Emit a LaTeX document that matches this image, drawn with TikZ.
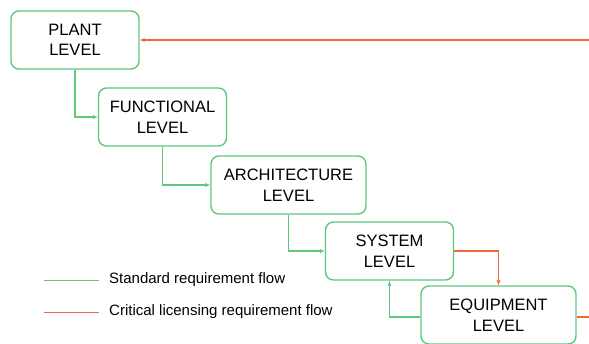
\documentclass[tikz,border=0pt]{standalone}
\usepackage{fontspec}
\setmainfont{Liberation Sans}
\usepackage{tikz}
\usetikzlibrary{arrows.meta}
\definecolor{flowgreen}{RGB}{95,200,125}
\definecolor{flowred}{RGB}{240,105,60}

\begin{document}
\begin{tikzpicture}[x=1pt,y=-1pt,
  levelbox/.style={draw=flowgreen,line width=1.4pt,rounded corners=8pt,fill=white,
    minimum width=128pt,minimum height=58pt,align=center,inner sep=0pt,
    font=\fontsize{16.5}{20.5}\selectfont},
  widebox/.style={levelbox,minimum width=155pt},
  stdflow/.style={draw=flowgreen,line width=1.3pt,-{Latex[length=5pt,width=4.5pt]}},
  critflow/.style={draw=flowred,line width=1.3pt,-{Latex[length=5pt,width=4.5pt]}},
  legtext/.style={anchor=west,inner sep=0pt,font=\fontsize{15}{18}\selectfont}]
 \useasboundingbox (0,0) rectangle (589,343);
 % the five levels, stepping down to the right
 \node[levelbox] (plant) at (75,40) {PLANT\\LEVEL};
 \node[levelbox] (func) at (162.5,117) {FUNCTIONAL\\LEVEL};
 \node[widebox] (arch) at (288.5,185) {ARCHITECTURE\\LEVEL};
 \node[levelbox] (sys) at (389.5,251) {SYSTEM\\LEVEL};
 \node[widebox] (equip) at (498.5,315) {EQUIPMENT\\LEVEL};
 \coordinate (inR) at (589,40);
 \coordinate (outR) at (589,317);
 % standard flow
 \draw[stdflow] (plant.south) |- (func.west);
 \draw[stdflow] (func.south) |- (arch.west);
 \draw[stdflow] (arch.south) |- (sys.west);
 \draw[stdflow] (equip.west|-0,317) -| (sys.south);
 % critical licensing flow
 \draw[critflow] (inR) -- (plant.east);
 \draw[critflow] (sys.east) -| (equip.north);
 \draw[draw=flowred,line width=1.3pt] (equip.east|-outR) -- (outR);
 % legend
 \coordinate (lg1) at (44,280);
 \coordinate (lg2) at (44,312);
 \draw[draw=flowgreen,line width=1pt] (lg1) -- +(55,0) coordinate (lg1e);
 \draw[draw=flowred,line width=1pt] (lg2) -- +(55,0) coordinate (lg2e);
 \node[legtext] (lgstd) at ([xshift=10pt]lg1e) {Standard requirement flow};
 \node[legtext] (lgcrit) at ([xshift=10pt]lg2e) {Critical licensing requirement flow};
\end{tikzpicture}
\end{document}
